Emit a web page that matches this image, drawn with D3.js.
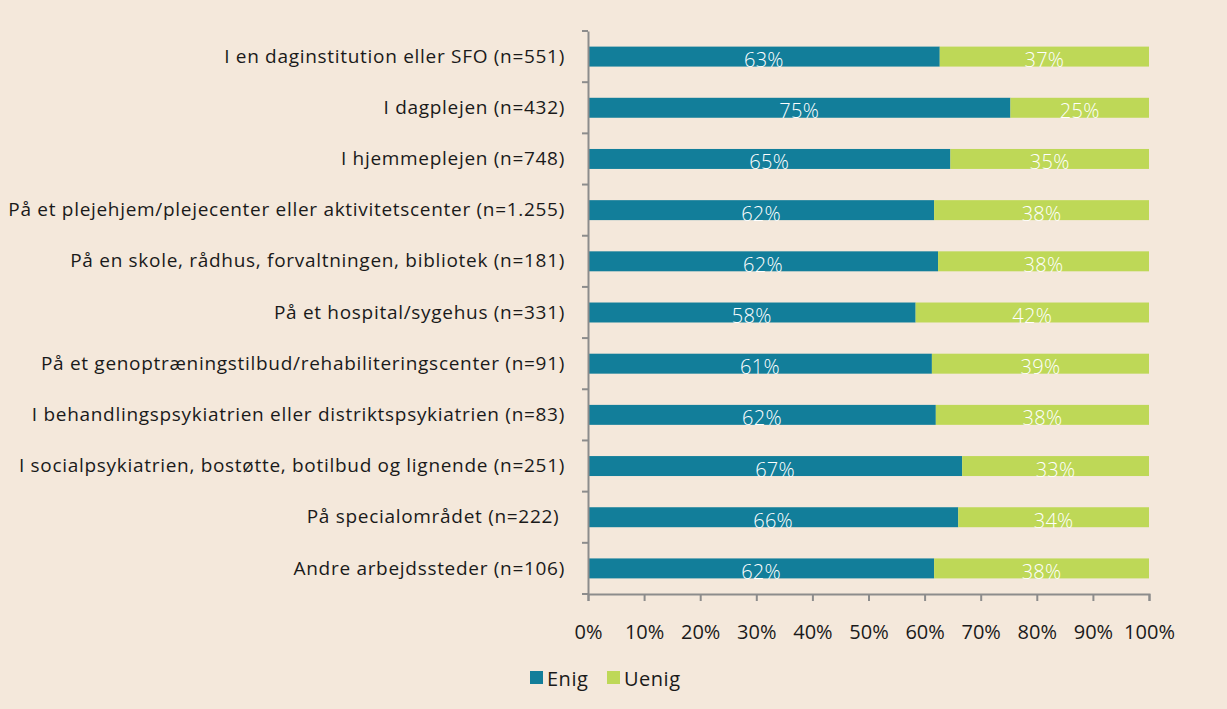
<!DOCTYPE html>
<html><head><meta charset="utf-8">
<script src="https://cdn.jsdelivr.net/npm/d3@7"></script>
<style>
html,body{margin:0;padding:0;background:#f4e8db;}
svg{display:block;}
text{font-family:"Open Sans","Noto Sans",sans-serif;}
</style></head>
<body>
<script>
const categories = [
  "I en daginstitution eller SFO (n=551)",
  "I dagplejen (n=432)",
  "I hjemmeplejen (n=748)",
  "På et plejehjem/plejecenter eller aktivitetscenter (n=1.255)",
  "På en skole, rådhus, forvaltningen, bibliotek (n=181)",
  "På et hospital/sygehus (n=331)",
  "På et genoptræningstilbud/rehabiliteringscenter (n=91)",
  "I behandlingspsykiatrien eller distriktspsykiatrien (n=83)",
  "I socialpsykiatrien, bostøtte, botilbud og lignende (n=251)",
  "På specialområdet (n=222) ",
  "Andre arbejdssteder (n=106)"
];
const enig  = [62.7, 75.3, 64.6, 61.7, 62.4, 58.4, 61.3, 62.0, 66.7, 66.0, 61.7];
const uenig = [37.3, 24.7, 35.4, 38.3, 37.6, 41.6, 38.7, 38.0, 33.3, 34.0, 38.3];
const seriesNames = ["Enig", "Uenig"];
const xTicks = [0, 10, 20, 30, 40, 50, 60, 70, 80, 90, 100];

const W = 1227, H = 709;
const colors = {Enig: "#127e9a", Uenig: "#bed857"};
const margin = {left: 588, right: 78, top: 31, bottom: 115};

const svg = d3.select("body").append("svg").attr("width", W).attr("height", H);
svg.append("rect").attr("width", W).attr("height", H).attr("fill", "#f4e8db");

const x = d3.scaleLinear().domain([0, 100]).range([margin.left, W - margin.right]);
const y = d3.scaleBand().domain(categories).range([margin.top, H - margin.bottom]).paddingInner(0.61).paddingOuter(0.305);

const rows = categories.map((c, i) => ({cat: c, Enig: enig[i], Uenig: uenig[i]}));
const stack = d3.stack().keys(seriesNames)(rows);

const axisColor = "#8c8c8c";

// bars
const g = svg.append("g");
stack.forEach(layer => {
  const key = layer.key;
  g.selectAll(null).data(layer).join("rect")
    .attr("x", d => x(d[0]))
    .attr("y", d => y(d.data.cat))
    .attr("width", d => x(d[1]) - x(d[0]))
    .attr("height", y.bandwidth())
    .attr("fill", colors[key]);
  g.selectAll(null).data(layer).join("text")
    .attr("x", d => (x(d[0]) + x(d[1])) / 2)
    .attr("y", d => y(d.data.cat) + y.bandwidth() + 0.5)
    .attr("text-anchor", "middle")
    .attr("fill", "#ffffff")
    .attr("font-size", 20)
    .attr("font-weight", 300)
    .attr("letter-spacing", 0.3)
    .text(d => Math.round(d[1] - d[0]) + "%");
});

// y axis
const yBand = d3.scaleBand().domain(categories).range([margin.top, H - margin.bottom]);
const yAxis = svg.append("g").attr("transform", `translate(${margin.left},0)`)
  .call(d3.axisLeft(y).tickSize(0).tickPadding(23));
yAxis.select(".domain").attr("stroke", axisColor).attr("stroke-width", 2);
yAxis.selectAll("text").attr("font-size", 19).attr("letter-spacing", 0.7).attr("fill", "#1a1a1a").style("white-space", "pre");
// boundary ticks
const bounds = categories.map(c => yBand(c)).concat([H - margin.bottom]);
svg.append("g").selectAll("line").data(bounds).join("line")
  .attr("x1", margin.left - 6).attr("x2", margin.left)
  .attr("y1", d => d).attr("y2", d => d)
  .attr("stroke", axisColor).attr("stroke-width", 2);

// x axis
const xAxis = svg.append("g").attr("transform", `translate(0,${H - margin.bottom})`)
  .call(d3.axisBottom(x).tickValues(xTicks).tickFormat(d => d + "%").tickSize(7).tickPadding(24));
xAxis.select(".domain").attr("stroke", axisColor).attr("stroke-width", 2);
xAxis.selectAll("line").attr("stroke", axisColor).attr("stroke-width", 2);
xAxis.selectAll("text").attr("font-size", 20).attr("fill", "#1a1a1a");

// legend
const legendItems = [{k: "Enig", x: 530}, {k: "Uenig", x: 607}];
const leg = svg.append("g");
legendItems.forEach(it => {
  leg.append("rect").attr("x", it.x).attr("y", 671).attr("width", 13).attr("height", 13).attr("fill", colors[it.k]);
  leg.append("text").attr("x", it.x + 17).attr("y", 686).attr("font-size", 20).attr("letter-spacing", 0.5).attr("fill", "#1a1a1a").text(it.k);
});
</script>
</body></html>
